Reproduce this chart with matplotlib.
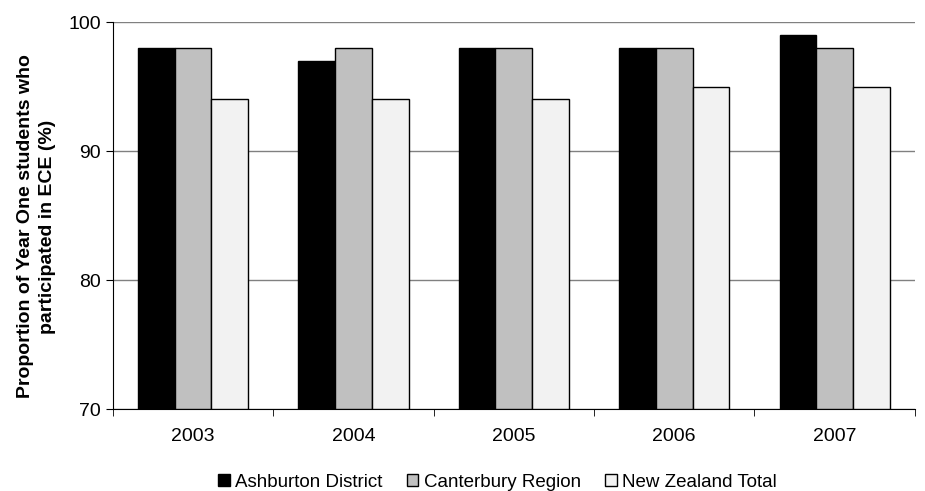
import numpy as np
import matplotlib.pyplot as plt

plt.rcParams['font.family'] = ['Liberation Sans', 'DejaVu Sans']

years = ['2003', '2004', '2005', '2006', '2007']
ashburton = [98, 97, 98, 98, 99]
canterbury = [98, 98, 98, 98, 98]
nz_total = [94, 94, 94, 95, 95]

series = [('Ashburton District', ashburton, '#000000'),
          ('Canterbury Region', canterbury, '#c0c0c0'),
          ('New Zealand Total', nz_total, '#f2f2f2')]

fig = plt.figure(figsize=(9.25, 4.91), dpi=100)
ax = fig.add_axes([0.122, 0.167, 0.867, 0.788])

x = np.arange(len(years))
w = 0.229
for k, (name, vals, col) in enumerate(series):
    ax.bar(x + (k - 1) * w, np.array(vals) - 70, bottom=70, width=w,
           color=col, edgecolor='black', linewidth=1, label=name, zorder=3)

ax.set_xlim(-0.5, len(years) - 0.5)
ax.set_ylim(70, 100)
ax.set_yticks([70, 80, 90, 100])
ax.tick_params(axis='y', labelsize=14, length=5, direction='out')
ax.set_xticks(x)
ax.set_xticklabels(years, fontsize=14)
ax.tick_params(axis='x', length=0, pad=14)
ax.set_xticks(np.arange(len(years) + 1) - 0.5, minor=True)
ax.tick_params(axis='x', which='minor', length=5, direction='out')

ax.grid(axis='y', color='#808080', linewidth=1, zorder=0)
ax.spines['right'].set_visible(False)
ax.spines['top'].set_visible(False)
ax.spines['left'].set_color('black')
ax.spines['bottom'].set_color('black')

ax.set_ylabel('Proportion of Year One students who\nparticipated in ECE (%)',
              fontsize=14, fontweight='bold', linespacing=1.4)
ax.yaxis.set_label_coords(-0.071, 0.472)

fig.legend(loc='center', bbox_to_anchor=(0.538, 0.018), ncol=3,
           frameon=False, fontsize=13.5, handlelength=0.6, handleheight=0.6,
           handletextpad=0.3, columnspacing=1.3)

fig.savefig('out.png', dpi=100)
